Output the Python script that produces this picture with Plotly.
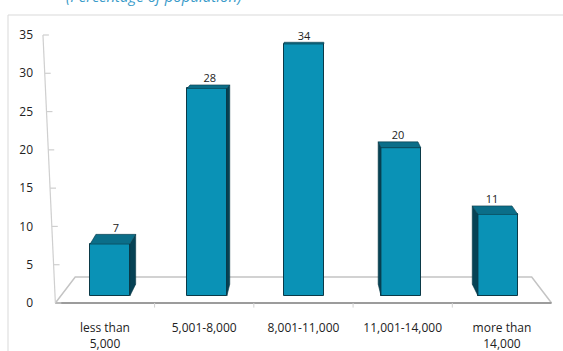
import plotly.graph_objects as go

# ---- data -------------------------------------------------------------
categories = ["less than<br>5,000", "5,001-8,000", "8,001-11,000",
              "11,001-14,000", "more than<br>14,000"]
shares = [7, 28, 34, 20, 11]
y_ticks = [0, 5, 10, 15, 20, 25, 30, 35]
title_text = "(Percentage of population)"

# ---- styling / geometry ----------------------------------------------
W, H = 563, 351
ML, MR, MT, MB = 38, 5, 20, 41
FONT = "Open Sans, Noto Sans, sans-serif"

FRONT = "#0a92b6"
TOP = "#0b6e89"
SIDE = "#064255"
EDGE = "#0b3a48"

# pseudo-3D: back edges lean toward a vanishing point
VP_X, VP_Y = 2.0, 39.9
KX, KY = 0.03, 0.04
BAR_W = 0.41
FLOOR_DEPTH = 3.4
FLOOR_INSET = 0.2

pos = list(range(len(shares)))

fig = go.Figure()

# front faces of the bars
fig.add_trace(go.Bar(
    x=pos, y=shares, width=BAR_W, xaxis="x2", yaxis="y2",
    marker=dict(color=FRONT, line=dict(color=EDGE, width=1)),
    hoverinfo="skip", showlegend=False))

# top and side faces
for i, v in zip(pos, shares):
    dx = KX * (VP_X - i)
    dy_top = KY * (VP_Y - v)
    dy_bot = KY * VP_Y
    xl, xr = i - BAR_W / 2, i + BAR_W / 2
    if abs(dx) > 1e-9:
        xs = xr if dx > 0 else xl
        fig.add_trace(go.Scatter(
            x=[xs, xs, xs + dx, xs + dx, xs],
            y=[0, v, v + dy_top, dy_bot, 0],
            mode="lines", fill="toself", fillcolor=SIDE,
            line=dict(color=EDGE, width=0.6),
            xaxis="x2", yaxis="y2", hoverinfo="skip", showlegend=False))
    fig.add_trace(go.Scatter(
        x=[xl, xr, xr + dx, xl + dx, xl],
        y=[v, v, v + dy_top, v + dy_top, v],
        mode="lines", fill="toself", fillcolor=TOP,
        line=dict(color=EDGE, width=0.6),
        xaxis="x2", yaxis="y2", hoverinfo="skip", showlegend=False))

# value labels above each bar
fig.add_trace(go.Scatter(
    x=[i + KX * (VP_X - i) for i in pos],
    y=[v + KY * (VP_Y - v) for v in shares],
    text=[str(v) for v in shares],
    mode="text", textposition="top center",
    textfont=dict(family=FONT, size=11, color="#222222"),
    xaxis="x2", yaxis="y2", hoverinfo="skip", showlegend=False))

# slanted value axis with small tick marks
ymax = y_ticks[-1]
def axis_x(t):
    return -0.5 - 0.125 * t / ymax

ax_x = [axis_x(0), axis_x(ymax), None]
ax_y = [0, ymax, None]
for t in y_ticks:
    ax_x += [axis_x(t), axis_x(t) + 0.06, None]
    ax_y += [t, t, None]
fig.add_trace(go.Scatter(
    x=ax_x, y=ax_y, mode="lines",
    line=dict(color="#cfcfcf", width=1.2),
    hoverinfo="skip", showlegend=False))

# floor
n = len(categories)
x_lo, x_hi = -0.5, n - 0.5
fig.add_shape(type="path", xref="x", yref="y", layer="below",
              path=(f"M {x_lo},0 L {x_lo + FLOOR_INSET},{FLOOR_DEPTH} "
                    f"L {x_hi - FLOOR_INSET},{FLOOR_DEPTH} L {x_hi},0"),
              line=dict(color="#c4c4c4", width=1.5))
fig.add_shape(type="line", xref="x", yref="y", layer="below",
              x0=x_lo, x1=x_hi, y0=0, y1=0,
              line=dict(color="#9c9c9c", width=2))
for k in range(1, n):
    fig.add_shape(type="line", xref="x", yref="y", layer="below",
                  x0=k - 0.5, x1=k - 0.5, y0=0, y1=-0.6,
                  line=dict(color="#d0d0d0", width=1))

# chart frame
fig.add_shape(type="rect", xref="paper", yref="paper",
              x0=(8 - ML) / (W - ML - MR), x1=1.3,
              y0=-0.6, y1=(H - MB - 15) / (H - MT - MB),
              line=dict(color="#d9d9d9", width=1))

# title (partly above the visible area)
fig.add_annotation(
    text=title_text, xref="paper", yref="paper",
    x=(153 - ML) / (W - ML - MR), y=(H - MB - 8) / (H - MT - MB),
    xanchor="center", yanchor="bottom", showarrow=False,
    font=dict(family=FONT, size=15, color="#3a9bc9", style="italic"))

fig.update_layout(
    width=W, height=H,
    margin=dict(l=ML, r=MR, t=MT, b=MB, autoexpand=False),
    paper_bgcolor="white", plot_bgcolor="white",
    showlegend=False, bargap=0,
    xaxis=dict(range=[-0.675, 4.565], tickvals=pos, ticktext=categories,
               showgrid=False, zeroline=False, showline=False, ticks="",
               tickfont=dict(family=FONT, size=12, color="#222222"),
               ticklabelstandoff=9, automargin=False, fixedrange=True),
    yaxis=dict(range=[-0.914, 36.959], tickvals=y_ticks,
               showgrid=False, zeroline=False, showline=False, ticks="",
               tickfont=dict(family=FONT, size=12, color="#222222"),
               ticklabelstandoff=4, automargin=False, fixedrange=True),
    xaxis2=dict(overlaying="x", anchor="y2", range=[-0.742, 4.619],
                visible=False, fixedrange=True),
    yaxis2=dict(overlaying="y", anchor="x2", range=[-1.889, 37.238],
                visible=False, fixedrange=True),
)

fig.write_html("out.html")
